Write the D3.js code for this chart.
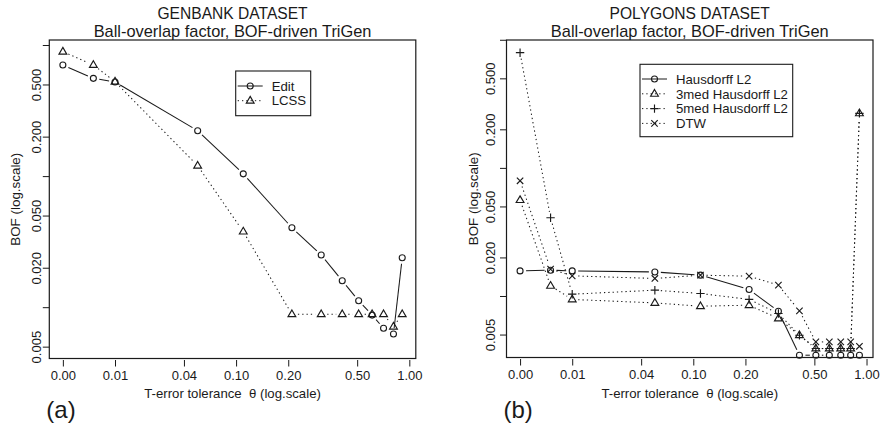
<!DOCTYPE html>
<html><head><meta charset="utf-8">
<script src="https://cdn.jsdelivr.net/npm/d3@7"></script>
<style>
body{margin:0;background:#fff}
svg{display:block}
text{font-family:"Liberation Sans",Arial,Helvetica,sans-serif;fill:#1a1a1a;white-space:pre}
</style>
</head><body>
<svg id="chart" width="881" height="424"></svg>
<script>
// ---------- data ----------
const thetaValues = [0, 0.005, 0.01, 0.05, 0.1, 0.2, 0.3, 0.4, 0.5, 0.6, 0.7, 0.8, 0.9];
const thetaOffset = 0.01; // axis is log(theta + 0.01)
const xTickThetas = [0, 0.01, 0.04, 0.09, 0.19, 0.49, 0.99];
const xTickLabels = ["0.00", "0.01", "0.04", "0.10", "0.20", "0.50", "1.00"];
const yTickValues = [1, 0.5, 0.2, 0.1, 0.05, 0.02, 0.01, 0.005];
const yTickLabels = ["", "0.500", "0.200", "", "0.050", "0.020", "", "0.005"];

const genbankNames = ["Edit", "LCSS"];
const genbankEdit = [0.704, 0.557, 0.522, 0.222, 0.104, 0.0404, 0.025, 0.0159, 0.0112, 0.0087, 0.0069, 0.00625, 0.0238];
const genbankLCSS = [0.889, 0.704, 0.525, 0.120, 0.0377, 0.00883, 0.00883, 0.00883, 0.00883, 0.00883, 0.00883, 0.0071, 0.00883];

const polygonsNames = ["Hausdorff L2", "3med Hausdorff L2", "5med Hausdorff L2", "DTW"];
const polyHausdorff = [0.0157, 0.0159, 0.0157, 0.0154, 0.01454, 0.01124, 0.0076, 0.00345, 0.00345, 0.00345, 0.00345, 0.00345, 0.00345];
const poly3med = [0.056, 0.012, 0.0094, 0.00883, 0.00832, 0.00848, 0.00667, 0.00494, 0.00389, 0.00389, 0.00389, 0.00389, 0.2666];
const poly5med = [0.793, 0.0408, 0.01033, 0.0111, 0.01046, 0.0094, 0.0073, 0.00494, 0.00389, 0.00389, 0.00389, 0.00389, 0.2666];
const polyDTW = [0.0793, 0.0162, 0.01436, 0.0137, 0.01454, 0.01428, 0.01215, 0.00765, 0.00438, 0.00438, 0.00438, 0.00438, 0.00405];

// ---------- drawing ----------
const svg = d3.select("#chart");
const ink = "#1a1a1a";

function marker(g, shape, x, y) {
  if (shape === "circle") {
    g.append("circle").attr("cx", x).attr("cy", y).attr("r", 3)
      .attr("fill", "none").attr("stroke", ink).attr("stroke-width", 1.1);
  } else if (shape === "triangle") {
    g.append("path").attr("d", `M${x},${y-4.3}L${x+3.9},${y+2.4}L${x-3.9},${y+2.4}Z`)
      .attr("fill", "none").attr("stroke", ink).attr("stroke-width", 1.15);
  } else if (shape === "plus") {
    g.append("path").attr("d", `M${x-4.2},${y}H${x+4.2}M${x},${y-4.2}V${y+4.2}`)
      .attr("stroke", ink).attr("stroke-width", 1.15);
  } else if (shape === "cross") {
    g.append("path").attr("d", `M${x-3.2},${y-3.2}L${x+3.2},${y+3.2}M${x-3.2},${y+3.2}L${x+3.2},${y-3.2}`)
      .attr("stroke", ink).attr("stroke-width", 1.15);
  }
}

function dashFor(style) { return style === "dotted" ? "1.3,3" : null; }

function drawPanel(cfg) {
  const g = svg.append("g");
  const xs = d3.scaleLog().domain(cfg.xDomain).range([cfg.left, cfg.right]);
  const ys = d3.scaleLog().domain(cfg.yDomain).range([cfg.bottom, cfg.top]);
  const X = t => xs(t + thetaOffset);

  // titles
  g.append("text").attr("x", (cfg.left + cfg.right) / 2).attr("y", 18.5)
    .attr("text-anchor", "middle").attr("font-size", 15.6).text(cfg.title1);
  g.append("text").attr("x", (cfg.left + cfg.right) / 2).attr("y", 36.5)
    .attr("text-anchor", "middle").attr("font-size", 16.4).text(cfg.title2);

  // series
  cfg.series.forEach(s => {
    const pts = thetaValues.map((t, i) => [X(t), ys(s.values[i])]);
    const gap = 6;
    for (let i = 0; i < pts.length - 1; i++) {
      const [x1, y1] = pts[i], [x2, y2] = pts[i + 1];
      const d = Math.hypot(x2 - x1, y2 - y1);
      if (d <= 2 * gap + 0.5) continue;
      const ux = (x2 - x1) / d, uy = (y2 - y1) / d;
      g.append("line")
        .attr("x1", x1 + ux * gap).attr("y1", y1 + uy * gap)
        .attr("x2", x2 - ux * gap).attr("y2", y2 - uy * gap)
        .attr("stroke", ink).attr("stroke-width", 1.05)
        .attr("stroke-dasharray", dashFor(s.style));
    }
    pts.forEach(p => marker(g, s.shape, p[0], p[1]));
  });

  // box
  g.append("rect").attr("x", cfg.left).attr("y", cfg.top)
    .attr("width", cfg.right - cfg.left).attr("height", cfg.bottom - cfg.top)
    .attr("fill", "none").attr("stroke", ink).attr("stroke-width", 1.2);

  // x axis
  const xa = g.append("g").attr("transform", `translate(0,${cfg.bottom + 1.5})`)
    .call(d3.axisBottom(xs).tickValues(xTickThetas.map(t => t + thetaOffset))
      .tickFormat((d, i) => xTickLabels[i]).tickSizeOuter(0).tickSizeInner(6.5).tickPadding(4));
  xa.select(".domain").remove();
  xa.selectAll("line").attr("stroke", ink);
  xa.selectAll("text").attr("font-size", 13).attr("fill", ink)
    .attr("font-family", "Liberation Sans, Arial, sans-serif");

  // y axis
  const yVis = yTickValues.map((v, i) => ({ v, label: yTickLabels[i] }))
    .filter(o => ys(o.v) >= cfg.top - 0.5 && ys(o.v) <= cfg.bottom + 0.5);
  const ya = g.append("g").attr("transform", `translate(${cfg.left},0)`)
    .call(d3.axisLeft(ys).tickValues(yVis.map(o => o.v))
      .tickFormat((d, i) => yVis[i].label).tickSizeOuter(0).tickSizeInner(6.5).tickPadding(0));
  ya.select(".domain").remove();
  ya.selectAll("line").attr("stroke", ink);
  ya.selectAll("text").attr("font-size", 13).attr("fill", ink)
    .attr("font-family", "Liberation Sans, Arial, sans-serif")
    .attr("text-anchor", "middle").attr("x", null).attr("dy", null)
    .attr("transform", `translate(${cfg.yLabelX - cfg.left},0) rotate(-90)`);

  // axis titles
  g.append("text").attr("x", (cfg.left + cfg.right) / 2).attr("y", 398)
    .attr("text-anchor", "middle").attr("font-size", 13.2)
    .text("T-error tolerance  \u03b8 (log.scale)");
  g.append("text").attr("transform", `translate(${cfg.yTitleX},${(cfg.top + cfg.bottom) / 2}) rotate(-90)`)
    .attr("text-anchor", "middle").attr("font-size", 13.4).text("BOF (log.scale)");

  // panel letter
  g.append("text").attr("x", cfg.left - 3).attr("y", 418).attr("font-size", 24).text(cfg.letter);

  // legend
  const L = cfg.legend;
  g.append("rect").attr("x", L.x).attr("y", L.y).attr("width", L.w).attr("height", L.h)
    .attr("fill", "#fff").attr("stroke", ink).attr("stroke-width", 1.1);
  cfg.series.forEach((s, i) => {
    const cy = L.y + L.row0 + i * L.step;
    g.append("line").attr("x1", L.x + 2).attr("x2", L.x + 27).attr("y1", cy).attr("y2", cy)
      .attr("stroke", ink).attr("stroke-width", 1).attr("stroke-dasharray", dashFor(s.style));
    marker(g, s.shape, L.x + 14.5, cy);
    g.append("text").attr("x", L.x + 36).attr("y", cy + 4.7).attr("font-size", 13.2).text(s.name);
  });
}

drawPanel({
  left: 49.3, right: 415.8, top: 40, bottom: 358.5,
  xDomain: [0.00835, 1.09], yDomain: [0.00406, 1.092],
  title1: "GENBANK DATASET", title2: "Ball-overlap factor, BOF-driven TriGen",
  yLabelX: 40.5, yTitleX: 20, letter: "(a)",
  legend: { x: 235.7, y: 71, w: 75, h: 44.7, row0: 15, step: 14.7 },
  series: [
    { name: genbankNames[0], values: genbankEdit, shape: "circle", style: "solid" },
    { name: genbankNames[1], values: genbankLCSS, shape: "triangle", style: "dotted" }
  ]
});

drawPanel({
  left: 506.5, right: 873, top: 40, bottom: 357.5,
  xDomain: [0.00835, 1.09], yDomain: [0.00331, 0.996],
  title1: "POLYGONS DATASET", title2: "Ball-overlap factor, BOF-driven TriGen",
  yLabelX: 494.5, yTitleX: 478, letter: "(b)",
  legend: { x: 640, y: 64.3, w: 152.7, h: 72.4, row0: 14.7, step: 14.8 },
  series: [
    { name: polygonsNames[0], values: polyHausdorff, shape: "circle", style: "solid" },
    { name: polygonsNames[1], values: poly3med, shape: "triangle", style: "dotted" },
    { name: polygonsNames[2], values: poly5med, shape: "plus", style: "dotted" },
    { name: polygonsNames[3], values: polyDTW, shape: "cross", style: "dotted" }
  ]
});
</script>
</body></html>
